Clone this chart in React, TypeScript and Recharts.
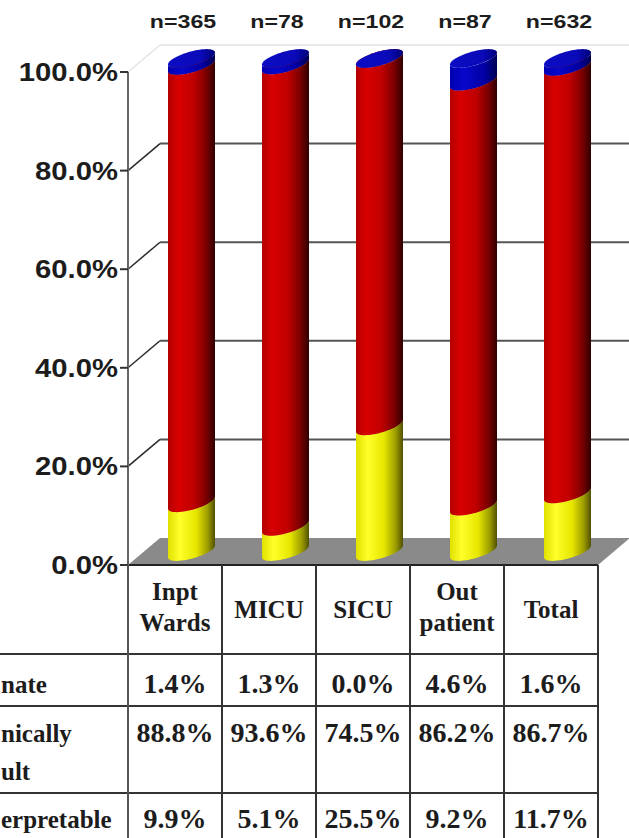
import { BarChart, Bar, XAxis, YAxis, CartesianGrid } from 'recharts';

// Result breakdown per site, percent of samples
const categories = ['Inpt Wards', 'MICU', 'SICU', 'Out patient', 'Total'];
const headerLines = [['Inpt', 'Wards'], ['MICU'], ['SICU'], ['Out', 'patient'], ['Total']];
const sampleSizes = [365, 78, 102, 87, 632];
const indeterminate = [1.4, 1.3, 0.0, 4.6, 1.6];
const adequate = [88.8, 93.6, 74.5, 86.2, 86.7];
const uninterpretable = [9.9, 5.1, 25.5, 9.2, 11.7];
const yTicks = [0, 0.2, 0.4, 0.6, 0.8, 1];
// row captions, as far as they fit in the left margin
const rowLabels = [['nate'], ['nically', 'ult'], ['erpretable']];

const data = categories.map((name, i) => ({
  name,
  n: `n=${sampleSizes[i]}`,
  uninterpretable: uninterpretable[i],
  adequate: adequate[i],
  indeterminate: indeterminate[i],
}));

// layout
const W = 629;
const H = 838;
const AXIS_W = 128;
const RIGHT = 31;
const TOP_H = 72;
const TABLE_H = 273;
const PLOT_TOP = TOP_H;
const PLOT_BOTTOM = H - TABLE_H;
const PLOT_RIGHT = W - RIGHT;
const BAND = (PLOT_RIGHT - AXIS_W) / categories.length;
// oblique depth of the 3D box
const DX = 32;
const DY = 27;

const SANS = "'Liberation Sans', Arial, sans-serif";
const SERIF = "'Liberation Serif', 'Times New Roman', serif";
const INK = '#1c1c1c';

function Cylinder(props: any) {
  const { x, y, width, height, body, cap } = props;
  if (x == null || y == null || !width) return null;
  const half = width / 2;
  const A = half * 0.64;
  const B = half * 0.4;
  const R = Math.sqrt(half * half - A * A);
  const cx = x + half + DX / 2;
  const yTop = y - DY / 2;
  const yBot = y + Math.max(height, 0) - DY / 2;
  const t0 = Math.atan2(A, R);
  const pt = (cy: number, t: number) =>
    `${(cx + R * Math.cos(t) + A * Math.sin(t)).toFixed(2)},${(cy - B * Math.sin(t)).toFixed(2)}`;
  const N = 28;
  const bottomArc: string[] = [];
  const topArc: string[] = [];
  for (let i = 0; i <= N; i++) {
    const t = t0 + Math.PI + (Math.PI * i) / N;
    bottomArc.push(pt(yBot, t));
    topArc.unshift(pt(yTop, t));
  }
  const ring: string[] = [];
  for (let i = 0; i < 2 * N; i++) ring.push(pt(yTop, (Math.PI * i) / N));
  return (
    <g>
      <polygon points={[...bottomArc, ...topArc].join(' ')} fill={body} />
      <polygon points={ring.join(' ')} fill={cap} />
    </g>
  );
}

const yellowShape = (p: any) => <Cylinder {...p} body="url(#gYellow)" cap="url(#gYellowCap)" />;
const redShape = (p: any) => <Cylinder {...p} body="url(#gRed)" cap="url(#gRedCap)" />;
const blueShape = (p: any) => <Cylinder {...p} body="url(#gBlue)" cap="url(#gBlueCap)" />;

const renderYTick = (props: any) => {
  const { x, y, payload } = props;
  return (
    <text
      transform={`translate(${x},${y + 9}) scale(1.17,1)`}
      textAnchor="end"
      fontFamily={SANS}
      fontWeight="bold"
      fontSize={25}
      fill={INK}
    >
      {(payload.value * 100).toFixed(1)}%
    </text>
  );
};

const renderNTick = (props: any) => {
  const { x, payload } = props;
  return (
    <text
      transform={`translate(${x + 8},28) scale(1.22,1)`}
      textAnchor="middle"
      fontFamily={SANS}
      fontWeight="bold"
      fontSize={19}
      fill={INK}
    >
      {payload.value}
    </text>
  );
};

// back-wall gridlines with the diagonal running into the wall, and the floor
const renderGridLine = (props: any) => {
  const { x1, y1, x2 } = props;
  if (Math.abs(y1 - PLOT_BOTTOM) < 1) {
    return (
      <polygon
        key="floor"
        points={`${x1},${y1} ${x2},${y1} ${x2 + DX},${y1 - DY} ${x1 + DX},${y1 - DY}`}
        fill="#8a8a8a"
      />
    );
  }
  const faint = Math.abs(y1 - PLOT_TOP) < 1;
  return (
    <g key={`grid-${y1}`}>
      <line x1={x1} y1={y1} x2={x1 + DX} y2={y1 - DY} stroke={faint ? '#e4e4e4' : '#2a2a2a'} strokeWidth={1.5} />
      <line x1={x1 + DX} y1={y1 - DY} x2={x2 + DX} y2={y1 - DY} stroke={faint ? '#e8e8e8' : '#555'} strokeWidth={2} />
    </g>
  );
};

const rowLines = [89, 141, 228];
const valueBaselines = [128, 177, 263];
const labelRows = [[128], [177, 215], [263]];

const renderTableTick = (props: any) => {
  const { x, payload } = props;
  const index = props.index ?? payload.index ?? 0;
  const top = PLOT_BOTTOM;
  const right = x + BAND / 2;
  const lines = headerLines[index];
  const headBase = lines.length === 2 ? [35, 66] : [53];
  const rows = [indeterminate, adequate, uninterpretable];
  return (
    <g>
      {index === 0 && (
        <g>
          {rowLines.map((d) => (
            <line key={d} x1={0} y1={top + d} x2={PLOT_RIGHT} y2={top + d} stroke="#333" strokeWidth={2} />
          ))}
          <line x1={AXIS_W} y1={top} x2={AXIS_W} y2={H} stroke="#555" strokeWidth={2} />
          {rowLabels.map((words, r) =>
            words.map((w, k) => (
              <text
                key={`${r}-${k}`}
                x={1}
                y={top + labelRows[r][k]}
                fontFamily={SERIF}
                fontWeight="bold"
                fontSize={25}
                fill={INK}
              >
                {w}
              </text>
            ))
          )}
        </g>
      )}
      <line x1={right} y1={top} x2={right} y2={H} stroke="#333" strokeWidth={2} />
      {lines.map((l, k) => (
        <text key={l} x={x} y={top + headBase[k]} textAnchor="middle" fontFamily={SERIF} fontWeight="bold" fontSize={25} fill={INK}>
          {l}
        </text>
      ))}
      {rows.map((vals, r) => (
        <text key={r} x={x} y={top + valueBaselines[r]} textAnchor="middle" fontFamily={SERIF} fontWeight="bold" fontSize={28} fill={INK}>
          {vals[index].toFixed(1)}%
        </text>
      ))}
    </g>
  );
};

export default function App() {
  return (
    <div style={{ position: 'absolute', left: 0, top: 0, background: '#fff' }}>
      <BarChart
        width={W}
        height={H}
        data={data}
        stackOffset="expand"
        margin={{ top: 0, right: RIGHT, bottom: 0, left: 0 }}
      >
        <defs>
          <linearGradient id="gRed" x1="0" y1="0" x2="1" y2="0">
            <stop offset="0%" stopColor="#b40000" />
            <stop offset="22%" stopColor="#d80000" />
            <stop offset="55%" stopColor="#c00000" />
            <stop offset="82%" stopColor="#780000" />
            <stop offset="100%" stopColor="#300000" />
          </linearGradient>
          <linearGradient id="gRedCap" x1="0" y1="0" x2="1" y2="0">
            <stop offset="0%" stopColor="#c00000" />
            <stop offset="100%" stopColor="#700000" />
          </linearGradient>
          <linearGradient id="gYellow" x1="0" y1="0" x2="1" y2="0">
            <stop offset="0%" stopColor="#e0e000" />
            <stop offset="25%" stopColor="#ffff2a" />
            <stop offset="60%" stopColor="#e6e600" />
            <stop offset="85%" stopColor="#9a9a00" />
            <stop offset="100%" stopColor="#505000" />
          </linearGradient>
          <linearGradient id="gYellowCap" x1="0" y1="0" x2="1" y2="0">
            <stop offset="0%" stopColor="#f0f000" />
            <stop offset="100%" stopColor="#a0a000" />
          </linearGradient>
          <linearGradient id="gBlue" x1="0" y1="0" x2="1" y2="0">
            <stop offset="0%" stopColor="#0000b0" />
            <stop offset="30%" stopColor="#0808cc" />
            <stop offset="75%" stopColor="#0000a0" />
            <stop offset="100%" stopColor="#000050" />
          </linearGradient>
          <linearGradient id="gBlueCap" x1="0" y1="0" x2="1" y2="0">
            <stop offset="0%" stopColor="#0c0cc4" />
            <stop offset="70%" stopColor="#0a0ab8" />
            <stop offset="100%" stopColor="#000078" />
          </linearGradient>
        </defs>
        <CartesianGrid vertical={false} horizontal={renderGridLine} />
        <XAxis
          xAxisId="n"
          orientation="top"
          dataKey="n"
          height={TOP_H}
          axisLine={false}
          tickLine={false}
          interval={0}
          tick={renderNTick}
        />
        <XAxis
          dataKey="name"
          height={TABLE_H}
          axisLine={{ stroke: '#222', strokeWidth: 2 }}
          tickLine={false}
          interval={0}
          tick={renderTableTick}
        />
        <YAxis
          width={AXIS_W}
          domain={[0, 1]}
          ticks={yTicks}
          interval={0}
          tickSize={8}
          tickLine={{ stroke: '#333', strokeWidth: 2 }}
          axisLine={{ stroke: '#666', strokeWidth: 2 }}
          tick={renderYTick}
        />
        <Bar dataKey="uninterpretable" stackId="s" barSize={47} shape={yellowShape} isAnimationActive={false} />
        <Bar dataKey="adequate" stackId="s" barSize={47} shape={redShape} isAnimationActive={false} />
        <Bar dataKey="indeterminate" stackId="s" barSize={47} shape={blueShape} isAnimationActive={false} />
      </BarChart>
    </div>
  );
}
